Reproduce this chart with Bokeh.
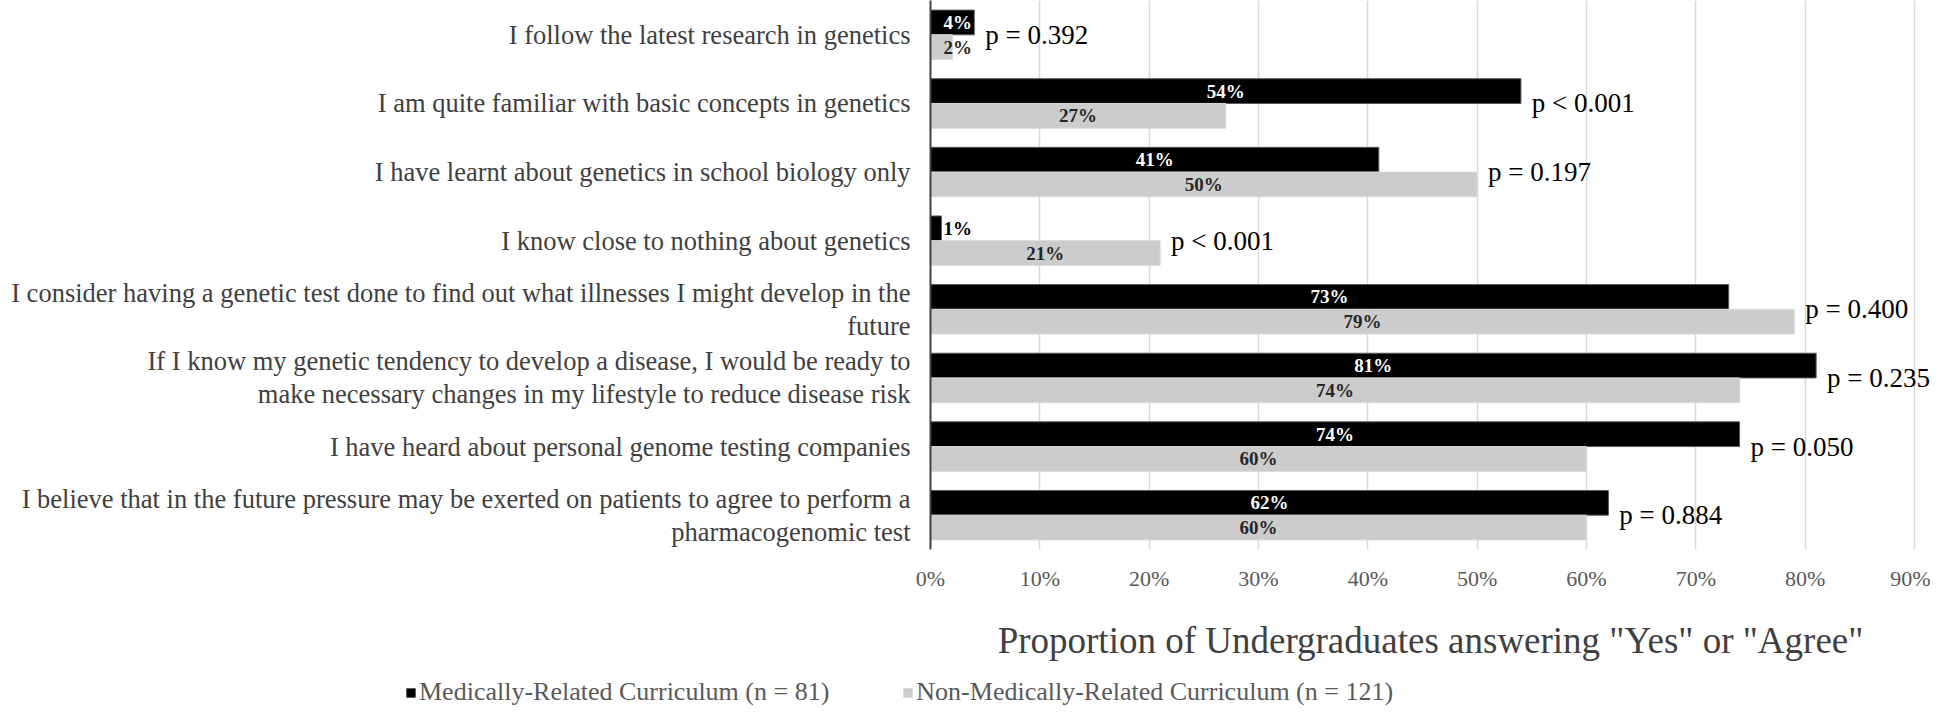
import numpy as np
from bokeh.plotting import figure
from bokeh.models import ColumnDataSource, FactorRange, Range1d, FixedTicker, Legend, LegendItem
from bokeh.transform import dodge
from bokeh.core.properties import value
from bokeh.embed import file_html
from bokeh.resources import INLINE

# ---------------- data ----------------
categories = [
    "I follow the latest research in genetics",
    "I am quite familiar with basic concepts in genetics",
    "I have learnt about genetics in school biology only",
    "I know close to nothing about genetics",
    "I consider having a genetic test done to find out what illnesses I might develop in the\nfuture",
    "If I know my genetic tendency to develop a disease, I would be ready to\nmake necessary changes in my lifestyle to reduce disease risk",
    "I have heard about personal genome testing companies",
    "I believe that in the future pressure may be exerted on patients to agree to perform a\npharmacogenomic test",
]
medical = [4, 54, 41, 1, 73, 81, 74, 62]
non_medical = [2, 27, 50, 21, 79, 74, 60, 60]
p_values = ["p = 0.392", "p < 0.001", "p = 0.197", "p < 0.001",
            "p = 0.400", "p = 0.235", "p = 0.050", "p = 0.884"]
x_ticks = [0, 10, 20, 30, 40, 50, 60, 70, 80, 90]
x_tick_labels = ["0%", "10%", "20%", "30%", "40%", "50%", "60%", "70%", "80%", "90%"]
series_names = ["Medically-Related Curriculum (n = 81)",
                "Non-Medically-Related Curriculum (n = 121)"]
x_title = 'Proportion of Undergraduates answering "Yes" or "Agree"'

# ---------------- style ----------------
SERIF = "Liberation Serif"
W = 1930
H_MAIN, H_LEG = 676, 31
BLACK = "#000000"
GRAY = "#cccccc"
BLACK_EDGE = "#595959"
GRAY_EDGE = "#d9d9d9"

src = ColumnDataSource(dict(
    cat=categories,
    med=medical,
    non=non_medical,
    med_lbl=[f"{v}%" for v in medical],
    non_lbl=[f"{v}%" for v in non_medical],
    med_x=[max(v / 2, 2.5) for v in medical],
    non_x=[max(v / 2, 2.5) for v in non_medical],
    med_col=["#ffffff" if v >= 3 else "#000000" for v in medical],
    p=p_values,
    p_x=[max(a, b) + 1.0 for a, b in zip(medical, non_medical)],
))

y_range = FactorRange(factors=categories[::-1], range_padding=0)

p = figure(width=W, height=H_MAIN, y_range=y_range, x_range=Range1d(0, 91.46),
           output_backend="svg", toolbar_location=None,
           min_border_left=930, min_border_right=0, min_border_top=0,
           min_border_bottom=H_MAIN - 549)
p.outline_line_color = None
p.background_fill_color = "#ffffff"
p.border_fill_color = "#ffffff"

# grid
p.ygrid.grid_line_color = None
p.xaxis.ticker = FixedTicker(ticks=x_ticks)
p.xaxis.major_label_overrides = {t: l for t, l in zip(x_ticks, x_tick_labels)}
p.xgrid.grid_line_color = "#d9d9d9"
p.xgrid.grid_line_width = 1.5

# x axis
xa = p.xaxis[0]
xa.axis_line_color = None
xa.major_tick_line_color = None
xa.minor_tick_line_color = None
xa.major_label_text_font = SERIF
xa.major_label_text_font_size = "22px"
xa.major_label_text_color = "#595959"
xa.major_label_standoff = 10
xa.axis_label = x_title
xa.axis_label_text_font = SERIF
xa.axis_label_text_font_size = "37px"
xa.axis_label_text_font_style = "normal"
xa.axis_label_text_color = "#404040"
xa.axis_label_standoff = 26

# y axis
ya = p.yaxis[0]
ya.axis_line_color = "#404040"
ya.axis_line_width = 2
ya.major_tick_line_color = None
ya.minor_tick_line_color = None
ya.major_label_text_font = SERIF
ya.major_label_text_font_size = "26.5px"
ya.major_label_text_color = "#404040"
ya.major_label_standoff = 14
ya.major_label_text_line_height = 1.1

# bars
p.hbar(y=dodge("cat", 0.18, range=p.y_range), left=0, right="med",
       height=0.36, fill_color=BLACK, line_color=BLACK_EDGE,
       line_width=1, source=src)
p.hbar(y=dodge("cat", -0.18, range=p.y_range), left=0, right="non",
       height=0.36, fill_color=GRAY, line_color=GRAY_EDGE,
       line_width=1, source=src)

# bar value labels
p.text(x="med_x", y=dodge("cat", 0.18, range=p.y_range), text="med_lbl",
       text_color="med_col", text_align="center", text_baseline="middle",
       text_font=value(SERIF), text_font_size="19px", text_font_style="bold",
       source=src)
p.text(x="non_x", y=dodge("cat", -0.18, range=p.y_range), text="non_lbl",
       text_color="#262626", text_align="center", text_baseline="middle",
       text_font=value(SERIF), text_font_size="19px", text_font_style="bold",
       source=src)

# p-values
p.text(x="p_x", y="cat", text="p", text_color="#000000", text_align="left",
       text_baseline="middle", text_font=value(SERIF), text_font_size="27px",
       source=src)

# ---------------- legend strip (separate root, full-width frame) ----------------
pl = figure(width=W, height=H_LEG, x_range=Range1d(0, 1), y_range=Range1d(0, 1),
            output_backend="svg", toolbar_location=None,
            min_border_left=0, min_border_right=0, min_border_top=0,
            min_border_bottom=0, x_axis_location=None, y_axis_location=None)
pl.outline_line_color = None
pl.grid.visible = False
pl.border_fill_color = "#ffffff"
nan_src = ColumnDataSource(dict(y=np.array([np.nan]), r=np.array([np.nan])))
lg_med = pl.hbar(y="y", right="r", left=0, height=0.5, fill_color=BLACK,
                 line_color=BLACK_EDGE, source=nan_src)
lg_non = pl.hbar(y="y", right="r", left=0, height=0.5, fill_color=GRAY,
                 line_color=GRAY_EDGE, source=nan_src)
legend = Legend(items=[LegendItem(label=series_names[0], renderers=[lg_med]),
                       LegendItem(label=series_names[1], renderers=[lg_non])],
                orientation="horizontal", location=(405, 0),
                glyph_width=11, glyph_height=11, label_standoff=3, spacing=73,
                padding=0, margin=0, border_line_color=None,
                background_fill_alpha=0, label_text_font=SERIF,
                label_text_font_size="26px", label_text_color="#595959")
pl.add_layout(legend, "center")

open("out.html", "w").write(file_html([p, pl], INLINE))
